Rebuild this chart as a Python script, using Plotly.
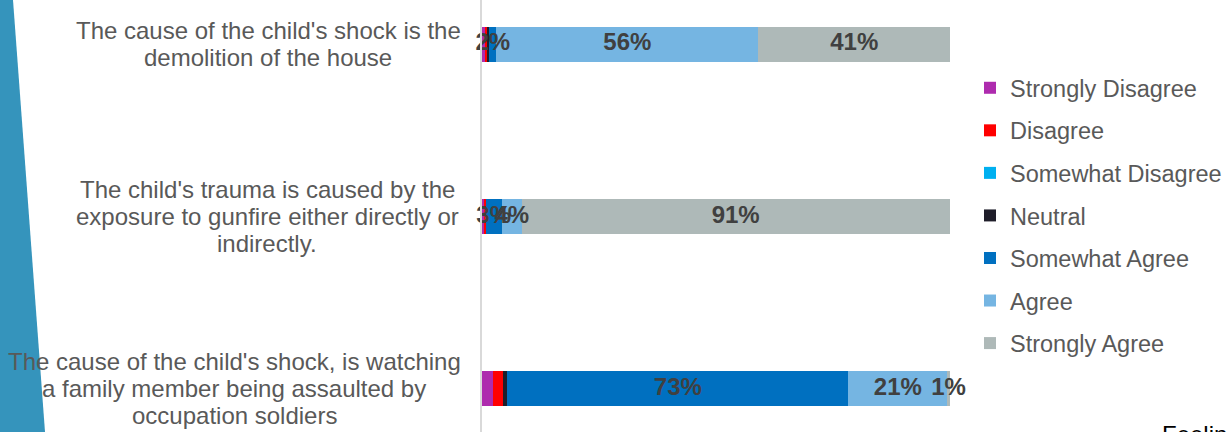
import plotly.graph_objects as go

# Categories (bottom to top)
categories = [
    "The cause of the child's shock, is watching<br>a family member being assaulted by<br>occupation soldiers",
    "The child's trauma is caused by the<br>exposure to gunfire either directly or<br>indirectly.",
    "The cause of the child's shock is the<br>demolition of the house",
]

series_names = ["Strongly Disagree", "Disagree", "Somewhat Disagree", "Neutral",
                "Somewhat Agree", "Agree", "Strongly Agree"]

strongly_disagree = [2.3, 0.5, 0.55]
disagree = [2.1, 0.3, 0.64]
somewhat_disagree = [0.0, 0.0, 0.0]
neutral = [1.0, 0.0, 0.36]
somewhat_agree = [72.9, 3.4, 1.5]
agree = [21.1, 4.3, 56.0]
strongly_agree = [0.6, 91.4, 41.0]

values = [strongly_disagree, disagree, somewhat_disagree, neutral,
          somewhat_agree, agree, strongly_agree]
colors = ["#AE2BAE", "#FF0000", "#00B0F0", "#1F1E2A", "#0070C0", "#75B5E2", "#AEB9B8"]
labeled = [False, False, False, False, True, True, True]

W, H = 1227, 432
L, R = 482, 277
PW = W - L - R

fig = go.Figure()
for name, vals, col in zip(series_names, values, colors):
    fig.add_trace(go.Bar(
        y=categories, x=vals, orientation="h", name=name,
        marker=dict(color=col, line=dict(width=0)),
        width=0.2035,
        legendgroup=name,
        hoverinfo="skip",
    ))

# Data labels drawn on top of all segments (centre of each labelled segment)
lab_x, lab_y, lab_t = [], [], []
for ci, cat in enumerate(categories):
    start = 0.0
    for vals, lab in zip(values, labeled):
        v = vals[ci]
        if lab:
            lab_x.append(start + v / 2)
            lab_y.append(cat)
            lab_t.append(f"{round(v)}%")
        start += v
fig.add_trace(go.Scatter(
    x=lab_x, y=lab_y, text=lab_t, mode="text", textposition="middle center",
    textfont=dict(family="Liberation Sans, Arial", size=24, color="#404040", weight=700),
    showlegend=False, cliponaxis=False, hoverinfo="skip",
))

# Category labels as centered multi-line blocks (right edge near x=460 px)
centers_px = [234, 267, 268]
line_gap = 27
for cat, cx in zip(categories, centers_px):
    lines = cat.split("<br>")
    n = len(lines)
    for i, ln in enumerate(lines):
        fig.add_annotation(
            x=(cx - L) / PW, xref="paper", y=cat, yref="y",
            text=ln, showarrow=False, xanchor="center", yanchor="middle",
            yshift=-(i - (n - 1) / 2) * line_gap,
            font=dict(family="Liberation Sans, Arial", size=24, color="#595959"),
        )

# Left decorative band
def px(xp):
    return (xp - L) / PW

def py(yp):
    return 1 - yp / H

fig.add_shape(
    type="path", xref="paper", yref="paper",
    path=f"M {px(0)} {py(0)} L {px(13)} {py(0)} L {px(45)} {py(H)} L {px(0)} {py(H)} Z",
    fillcolor="#3594BC", line=dict(width=0), layer="below",
)

fig.add_annotation(
    x=px(1160), y=py(419), xref="paper", yref="paper", text="Feelings",
    showarrow=False, xanchor="left", yanchor="top",
    font=dict(family="Liberation Sans, Arial", size=24, color="#000000"),
)

fig.update_layout(
    width=W, height=H,
    barmode="stack",
    margin=dict(l=L, r=R, t=0, b=0, autoexpand=False),
    plot_bgcolor="white", paper_bgcolor="white",
    showlegend=True,
    legend=dict(
        x=px(970), y=py(66), xanchor="left", yanchor="top",
        traceorder="grouped", tracegroupgap=9,
        font=dict(family="Liberation Sans, Arial", size=23.5, color="#595959"),
        bgcolor="rgba(0,0,0,0)", borderwidth=0,
    ),
    xaxis=dict(range=[0, 100], visible=False, showgrid=False, zeroline=False),
    yaxis=dict(
        range=[-0.25, 2.256], showticklabels=False, ticks="",
        showline=True, linecolor="#D9D9D9", linewidth=1.5,
        showgrid=False, zeroline=False,
    ),
)

fig.write_html(
    "out.html",
    config={"displayModeBar": False},
    post_script="document.body.style.margin='0';document.body.style.overflow='hidden';",
)
